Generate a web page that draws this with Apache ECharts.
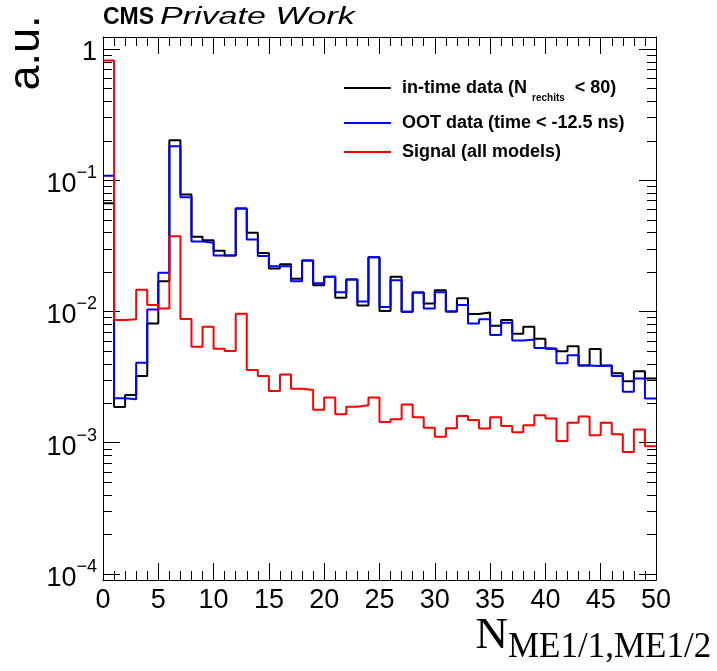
<!DOCTYPE html>
<html><head><meta charset="utf-8">
<script src="https://cdn.jsdelivr.net/npm/echarts@6/dist/echarts.min.js"></script>
<style>html,body{margin:0;padding:0;background:#fff}#c{width:717px;height:671px}</style>
</head><body><div id="c"></div>
<script>
// bin lower edges (bin width 1)
const binLow = [0,1,2,3,4,5,6,7,8,9,10,11,12,13,14,15,16,17,18,19,20,21,22,23,24,25,26,27,28,29,30,31,32,33,34,35,36,37,38,39,40,41,42,43,44,45,46,47,48,49];
const inTime = [0.0667,0.00187,0.00231,0.00322,0.0081,0.017,0.201,0.0776,0.037,0.0349,0.029,0.0267,0.0607,0.0397,0.0279,0.0212,0.0229,0.0177,0.0244,0.0158,0.0184,0.0127,0.0175,0.0111,0.0259,0.01005,0.0184,0.00995,0.0139,0.0115,0.0145,0.0100,0.0126,0.00954,0.0098,0.00778,0.0086,0.00676,0.00764,0.0062,0.0052,0.00497,0.00542,0.00388,0.00517,0.00388,0.00338,0.00294,0.0035,0.00308];
const oot = [0.108,0.00218,0.00214,0.00407,0.01035,0.0197,0.181,0.074,0.034,0.0333,0.0267,0.0267,0.0607,0.0353,0.0264,0.0221,0.0221,0.017,0.0244,0.0164,0.0184,0.014,0.0175,0.0119,0.0259,0.0108,0.0173,0.00995,0.0139,0.01054,0.014,0.0100,0.0112,0.0081,0.0087,0.0066,0.0082,0.0060,0.00612,0.00526,0.0052,0.00403,0.00463,0.00388,0.00384,0.00388,0.00322,0.00244,0.00308,0.00217];
const signal = [0.815,0.0086,0.0087,0.0146,0.0112,0.01054,0.0374,0.00874,0.00538,0.00764,0.0052,0.00499,0.0096,0.00358,0.00322,0.00248,0.0033,0.00258,0.00252,0.00178,0.00221,0.00165,0.00188,0.00193,0.00221,0.00144,0.00151,0.00195,0.00156,0.0013,0.00111,0.00129,0.0016,0.00149,0.00128,0.00156,0.00134,0.0012,0.00136,0.00162,0.00153,0.00103,0.00142,0.00158,0.00114,0.00142,0.00116,0.00085,0.00126,0.00094];
const seriesNames = ['in-time data (N rechits < 80)','OOT data (time < -12.5 ns)','Signal (all models)'];
const seriesColors = ['#000000','#0000ff','#ff0000'];
const xMin = 0, xMax = 50, xTickStep = 5;
const yMin = 0.00009, yMax = 1.23;
const yDecades = [-4,-3,-2,-1];
const yMinorMult = [2,3,4,5,6,7,8,9];

const SANS = '"Liberation Sans", Arial, sans-serif';
const SERIF = '"Liberation Serif", "Times New Roman", serif';

function stepData(vals){
  const d = vals.map((v,i)=>[binLow[i], v]);
  d.push([binLow[binLow.length-1]+1, vals[vals.length-1]]);
  return d;
}
const minorTicks = [];
yDecades.forEach(d=>yMinorMult.forEach(m=>minorTicks.push([0, m*Math.pow(10,d)])));

function yLabel(v){
  const l = Math.log10(v), e = Math.round(l);
  if (Math.abs(l-e) > 1e-6) return '';
  if (e === 0) return '{o|1}';
  return '{b|10}{s|\u2212' + (-e) + '}';
}
const legendFmt = {};
legendFmt[seriesNames[0]] = '{f|in-time data (N }{s|rechits}{m|  < 80)}';
legendFmt[seriesNames[1]] = '{f|OOT data (time < -12.5 ns)}';
legendFmt[seriesNames[2]] = '{f|Signal (all models)}';

const tickStyle = {color:'#000', width:1};
const chart = echarts.init(document.getElementById('c'), null, {renderer:'canvas'});
chart.setOption({
  animation:false,
  backgroundColor:'#fff',
  grid:{left:103, right:61, top:37, bottom:91, containLabel:false},
  xAxis:[{
    type:'value', min:xMin, max:xMax, interval:xTickStep, position:'bottom',
    axisLine:{show:true, onZero:false, lineStyle:{color:'#000', width:1}},
    axisTick:{show:true, inside:true, length:17, lineStyle:tickStyle},
    minorTick:{show:true, splitNumber:5, length:9, lineStyle:tickStyle},
    splitLine:{show:false}, minorSplitLine:{show:false},
    axisLabel:{show:true, margin:7, fontSize:27, fontFamily:SANS, color:'#000'}
  },{
    type:'value', min:xMin, max:xMax, interval:xTickStep, position:'top',
    axisLine:{show:true, onZero:false, lineStyle:{color:'#000', width:1}},
    axisTick:{show:true, inside:true, length:17, lineStyle:tickStyle},
    minorTick:{show:true, splitNumber:5, length:9, lineStyle:tickStyle},
    splitLine:{show:false}, axisLabel:{show:false}
  }],
  yAxis:[{
    type:'log', logBase:10, min:yMin, max:yMax, position:'left',
    axisLine:{show:true, onZero:false, lineStyle:{color:'#000', width:1}},
    axisTick:{show:true, inside:true, length:17, lineStyle:tickStyle},
    splitLine:{show:false},
    axisLabel:{show:true, margin:6, color:'#000', fontFamily:SANS, formatter:yLabel,
      showMinLabel:true, showMaxLabel:true,
      rich:{
        o:{fontSize:27, fontFamily:SANS, lineHeight:36, verticalAlign:'top', padding:[8,0,0,0]},
        b:{fontSize:27, fontFamily:SANS, lineHeight:36, verticalAlign:'top', padding:[9,0,0,0]},
        s:{fontSize:18, fontFamily:SANS, lineHeight:36, verticalAlign:'top', padding:[2,0,0,0]}
      }}
  },{
    type:'log', logBase:10, min:yMin, max:yMax, position:'right',
    axisLine:{show:true, onZero:false, lineStyle:{color:'#000', width:1}},
    axisTick:{show:true, inside:true, length:17, lineStyle:tickStyle},
    splitLine:{show:false}, axisLabel:{show:false}
  }],
  legend:{
    data:seriesNames, orient:'vertical', left:344, top:73, padding:0, itemWidth:47, itemHeight:2, itemGap:11,
    icon:'rect', selectedMode:false,
    formatter:n=>legendFmt[n],
    textStyle:{color:'#000', fontFamily:SANS, fontWeight:'bold', fontSize:18,
      rich:{
        f:{fontSize:18, fontWeight:'bold', fontFamily:SANS, lineHeight:30, padding:[0,0,0,6]},
        m:{fontSize:18, fontWeight:'bold', fontFamily:SANS, lineHeight:30},
        s:{fontSize:10, fontWeight:'bold', fontFamily:SANS, lineHeight:30, verticalAlign:'top', padding:[20,0,0,0]}
      }}
  },
  series:[
    {name:seriesNames[0], type:'line', step:'end', data:stepData(inTime), showSymbol:false, symbol:'none',
     lineStyle:{color:seriesColors[0], width:2}, itemStyle:{color:seriesColors[0]}, z:3},
    {name:seriesNames[1], type:'line', step:'end', data:stepData(oot), showSymbol:false, symbol:'none',
     lineStyle:{color:seriesColors[1], width:2}, itemStyle:{color:seriesColors[1]}, z:4},
    {name:seriesNames[2], type:'line', step:'end', data:stepData(signal), showSymbol:false, symbol:'none',
     lineStyle:{color:seriesColors[2], width:2}, itemStyle:{color:seriesColors[2]}, z:5},
    {name:'minorTicks', type:'custom', xAxisIndex:0, yAxisIndex:0, data:minorTicks, encode:{x:0,y:1}, z:6, silent:true,
     renderItem:(params, api)=>{
       const v = api.value(1);
       const a = api.coord([xMin, v]), b = api.coord([xMax, v]);
       const y = Math.round(a[1]) + 0.5;
       return {type:'group', children:[
         {type:'line', shape:{x1:a[0], y1:y, x2:a[0]+9, y2:y}, style:{stroke:'#000', lineWidth:1}},
         {type:'line', shape:{x1:b[0]-9, y1:y, x2:b[0], y2:y}, style:{stroke:'#000', lineWidth:1}}
       ]};
     }}
  ],
  graphic:[
    {type:'text', x:103, y:18, style:{text:'CMS', fontFamily:SANS, fontWeight:'bold', fontSize:23, fill:'#000', textAlign:'left', textVerticalAlign:'middle', verticalAlign:'middle'}},
    {type:'text', x:160, y:18, scaleX:1.48, style:{text:'Private Work', fontFamily:SANS, fontStyle:'italic', fontSize:23, fill:'#000', textAlign:'left', textVerticalAlign:'middle', verticalAlign:'middle'}},
    {type:'text', x:27, y:53, rotation:Math.PI/2, style:{text:'a.u.', fontFamily:SANS, fontSize:45, fill:'#000', textAlign:'center', textVerticalAlign:'middle', verticalAlign:'middle'}},
    {type:'text', x:508, y:636, style:{text:'N', fontFamily:SERIF, fontSize:45, fill:'#000', textAlign:'right', textVerticalAlign:'middle', verticalAlign:'middle'}},
    {type:'text', x:508, y:648, style:{text:'ME1/1,ME1/2', fontFamily:SERIF, fontSize:35, fill:'#000', textAlign:'left', textVerticalAlign:'middle', verticalAlign:'middle'}}
  ]
});
</script></body></html>
